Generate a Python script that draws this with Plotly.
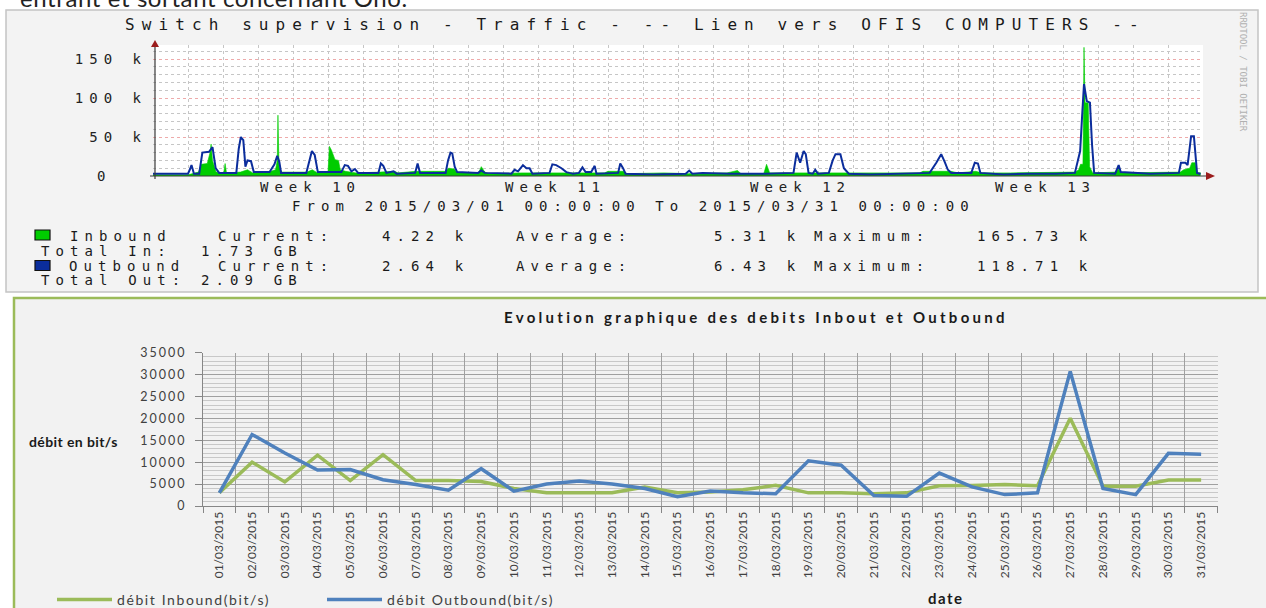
import plotly.graph_objects as go
import pandas as pd

W, H = 1266, 608


def px(x):
    return x / W


def py(y):
    return 1 - y / H


# ---------------- Top panel (RRDtool traffic graph) ----------------
# time = days since 2015-03-01 00:00, values in kbit/s
out_days = [0.0, 1.0, 1.05, 1.1, 1.17, 1.32, 1.41, 1.6, 1.7, 1.79, 1.89, 2.38, 2.45, 2.51, 2.58, 2.64,
            2.7, 2.8, 2.88, 3.33, 3.47, 3.55, 3.61, 3.66, 4.38, 4.47, 4.54, 4.62, 4.71, 5.38, 5.48,
            5.57, 5.67, 5.77, 5.86, 6.44, 6.51, 6.58, 6.67, 6.87, 6.96, 7.49, 7.56, 7.63, 8.36, 8.43,
            8.5, 8.55, 8.62, 8.69, 9.29, 9.38, 9.48, 10.24, 10.33, 10.43, 10.57, 10.67, 10.76, 10.84,
            11.33, 11.41, 11.52, 11.67, 11.81, 11.9, 12.0, 12.17, 12.27, 12.36, 12.52, 12.62, 12.67,
            13.29, 13.35, 13.43, 13.5, 14.3, 14.8, 15.22, 15.32, 15.41, 15.7, 16.5, 17.5, 18.3, 18.39,
            18.49, 18.59, 18.65, 18.73, 18.85, 18.92, 19.0, 19.31, 19.42, 19.5, 19.64, 19.74, 19.88,
            20.5, 21.3, 22.19, 22.38, 22.52, 22.62, 22.71, 22.81, 23.38, 23.48, 23.57, 23.64, 24.3,
            25.0, 25.8, 26.34, 26.41, 26.49, 26.55, 26.6, 26.68, 26.77, 26.83, 26.89, 27.49, 27.59,
            27.65, 28.5, 29.31, 29.37, 29.5, 29.56, 29.66, 29.74, 29.83, 29.93]
out_kbps = [3, 3, 8, 14, 3, 3, 30, 31, 37, 10, 4, 4, 35, 50, 46, 12,
            20, 19, 5, 5, 15, 26, 18, 4, 4, 20, 32, 27, 5, 5, 14,
            13, 6, 9, 4, 4, 16, 13, 4, 6, 3, 4, 16, 4, 4, 20,
            30, 29, 12, 5, 4, 7, 4, 3, 8, 6, 14, 10, 10, 3,
            4, 15, 14, 10, 5, 4, 3, 4, 11, 5, 5, 13, 3,
            4, 16, 10, 3, 2, 3, 3, 7, 3, 4, 3, 3, 4, 30,
            17, 32, 28, 4, 3, 8, 3, 4, 20, 28, 28, 10, 3,
            2, 3, 4, 17, 28, 18, 8, 4, 4, 17, 16, 4, 2,
            3, 3, 4, 17, 32, 80, 118, 96, 94, 40, 4, 3, 14,
            5, 3, 4, 17, 17, 14, 51, 51, 4, 2.6]

in_days = [0.0, 1.0, 1.3, 1.38, 1.55, 1.63, 1.66, 1.7, 1.8, 2.02, 2.06, 2.1, 2.5, 2.7, 2.85, 3.3,
           3.5, 3.55, 3.57, 3.6, 3.68, 4.4, 4.55, 4.7, 5.0, 5.04, 5.1, 5.2, 5.3, 5.35, 5.5, 5.8,
           6.5, 6.9, 7.0, 7.5, 8.0, 8.35, 8.45, 8.6, 8.7, 9.3, 9.38, 9.48, 9.6, 10.5, 12.9, 13.0,
           13.45, 13.55, 14.6, 15.3, 16.4, 16.7, 16.8, 17.45, 17.53, 17.62, 18.4, 19.0, 21.9, 22.0,
           22.8, 23.0, 23.5, 23.7, 24.5, 26.35, 26.45, 26.5, 26.57, 26.6, 26.63, 26.72, 26.76,
           26.85, 27.5, 27.58, 27.66, 29.35, 29.45, 29.62, 29.68, 29.78, 29.83, 29.93]
in_kbps = [1.5, 1.5, 5, 15, 16, 30, 41, 20, 5, 4, 16, 4, 5, 8, 4, 5,
           8, 20, 78, 12, 5, 5, 8, 4, 5, 38, 33, 21, 20, 8, 6, 4,
           5, 6, 4, 6, 6, 6, 10, 9, 4, 4, 12, 5, 3, 4, 4, 6,
           6, 3, 4, 3, 4, 7, 3, 3, 15, 4, 4, 4, 4, 6,
           6, 4, 6, 4, 4, 5, 8, 15, 15, 165, 94, 94, 12,
           4, 5, 9, 4, 5, 8, 10, 17, 17, 4, 4.2]

week_ticks = ["2015-03-05 12:00", "2015-03-12 12:00", "2015-03-19 12:00", "2015-03-26 12:00"]
week_labels = ["Week 10", "Week 11", "Week 12", "Week 13"]
top_y_ticks = [50, 100, 150]
top_y_labels = ["50 k", "100 k", "150 k"]
top_y_zero = 0
top_y_zero_label = "0"

# ---------------- Bottom panel (Excel chart) ----------------
dates = ["01/03/2015", "02/03/2015", "03/03/2015", "04/03/2015", "05/03/2015", "06/03/2015",
         "07/03/2015", "08/03/2015", "09/03/2015", "10/03/2015", "11/03/2015", "12/03/2015",
         "13/03/2015", "14/03/2015", "15/03/2015", "16/03/2015", "17/03/2015", "18/03/2015",
         "19/03/2015", "20/03/2015", "21/03/2015", "22/03/2015", "23/03/2015", "24/03/2015",
         "25/03/2015", "26/03/2015", "27/03/2015", "28/03/2015", "29/03/2015", "30/03/2015",
         "31/03/2015"]
inbound_daily = [3000, 10000, 5500, 11600, 5800, 11700, 5800, 5800, 5600, 4000, 3000, 3000, 3000,
                 4300, 3000, 3200, 3700, 4700, 3000, 3000, 2800, 3000, 4600, 4700, 4900, 4600,
                 20000, 4500, 4500, 5900, 5900]
outbound_daily = [3000, 16300, 12100, 8200, 8300, 6000, 4900, 3600, 8500, 3400, 5000, 5700, 5000,
                  4000, 2100, 3400, 3000, 2800, 10300, 9300, 2400, 2200, 7500, 4350, 2600, 3000,
                  30700, 4000, 2600, 12000, 11800]
bottom_y_ticks = [0, 5000, 10000, 15000, 20000, 25000, 30000, 35000]

start = pd.Timestamp("2015-03-01")


def to_time(days):
    return [start + pd.Timedelta(days=d) for d in days]


def ls(t, s):
    return f"<span style='letter-spacing:{s}px'>{t}</span>"


MONO = "DejaVu Sans Mono"
SANS = "Lato"

fig = go.Figure()

fig.add_trace(go.Scatter(x=to_time(in_days), y=in_kbps, mode="lines", fill="tozeroy",
                         fillcolor="#00cc00", line=dict(color="#00cc00", width=0.6),
                         xaxis="x", yaxis="y", showlegend=False, name="Inbound",
                         hoverinfo="skip"))
fig.add_trace(go.Scatter(x=to_time(out_days), y=out_kbps, mode="lines",
                         line=dict(color="#0b2d9c", width=2),
                         xaxis="x", yaxis="y", showlegend=False, name="Outbound",
                         hoverinfo="skip"))

fig.add_trace(go.Scatter(x=dates, y=inbound_daily, mode="lines",
                         line=dict(color="#9bbb59", width=3.5),
                         xaxis="x2", yaxis="y2", name=ls("débit Inbound(bit/s)", 1.6)))
fig.add_trace(go.Scatter(x=dates, y=outbound_daily, mode="lines",
                         line=dict(color="#4f81bd", width=3.5),
                         xaxis="x2", yaxis="y2", name=ls("débit Outbound(bit/s)", 1.6)))

grey_dot = "#c6c6c6"
red_dot = "#eeaaaa"

fig.update_layout(
    width=W, height=H, autosize=False,
    margin=dict(l=0, r=0, t=0, b=0, pad=0, autoexpand=False),
    paper_bgcolor="white", plot_bgcolor="rgba(0,0,0,0)",
    hovermode=False,
    xaxis=dict(domain=[px(153), px(1203)], anchor="y", type="date",
               range=["2015-03-01", "2015-03-31"],
               tickmode="array", tickvals=week_ticks,
               ticktext=[ls(t, 6.0) for t in week_labels],
               ticks="", showgrid=False, showline=False, zeroline=False,
               tickfont=dict(family=MONO, size=14, color="#222222"),
               ticklabelstandoff=1,
               minor=dict(tick0="2015-03-01", dtick=86400000, showgrid=True,
                          gridcolor=grey_dot, griddash="dot", gridwidth=1)),
    xaxis3=dict(overlaying="x", anchor="y", type="date",
                range=["2015-03-01", "2015-03-31"],
                tick0="2015-03-02", dtick=7 * 86400000,
                showgrid=True, gridcolor=red_dot, griddash="dot", gridwidth=1,
                showticklabels=False, ticks="", zeroline=False, showline=False),
    yaxis=dict(domain=[py(176), py(45)], anchor="x", range=[0, 168],
               tickmode="array", tickvals=top_y_ticks,
               ticktext=[ls(t, 6.0) for t in top_y_labels],
               ticks="", showgrid=True, gridcolor=red_dot, griddash="dot",
               zeroline=False, showline=False,
               tickfont=dict(family=MONO, size=14, color="#222222"),
               ticklabelstandoff=5,
               minor=dict(tick0=0, dtick=10, showgrid=True, gridcolor=grey_dot,
                          griddash="dot", gridwidth=1)),
    xaxis2=dict(domain=[px(203), px(1217.5)], anchor="y2", type="category",
                range=[-0.5, 30.5], tickson="boundaries",
                showgrid=True, gridcolor="#a0a0a0", gridwidth=1,
                ticks="outside", ticklen=6, tickcolor="#868686",
                showline=True, linecolor="#868686", linewidth=1,
                tickangle=-90, tickfont=dict(family=SANS, size=12, color="#404040"),
                zeroline=False),
    yaxis2=dict(domain=[py(506), py(352.5)], anchor="x2", range=[0, 35000],
                tickmode="array", tickvals=bottom_y_ticks,
                ticktext=[ls(str(v), 2.0) for v in bottom_y_ticks],
                showgrid=True, gridcolor="#a0a0a0", gridwidth=1,
                ticks="outside", ticklen=7, tickcolor="#868686",
                showline=True, linecolor="#868686", linewidth=1,
                zeroline=False,
                tickfont=dict(family=SANS, size=12.5, color="#404040"),
                ticklabelstandoff=6,
                minor=dict(tick0=0, dtick=1000, showgrid=True, gridcolor="#c8c8c8", gridwidth=1)),
    legend=dict(orientation="h", x=px(52), y=py(600), xanchor="left", yanchor="middle",
                itemwidth=55, entrywidth=200, entrywidthmode="pixels",
                font=dict(family=SANS, size=14, color="#404040"),
                bgcolor="rgba(0,0,0,0)", borderwidth=0),
)

shapes = [
    # top panel background
    dict(type="rect", xref="paper", yref="paper", x0=px(6), x1=px(1258), y0=py(292), y1=py(10),
         fillcolor="#f3f3f3", line=dict(color="#c4c4c4", width=1.5), layer="below"),
    # top plot area
    dict(type="rect", xref="paper", yref="paper", x0=px(155), x1=px(1203), y0=py(176), y1=py(45),
         fillcolor="#ffffff", line=dict(width=0), layer="below"),
    # bottom panel background
    dict(type="rect", xref="paper", yref="paper", x0=px(14), x1=px(1275), y0=py(615), y1=py(298),
         fillcolor="#f2f2f2", line=dict(color="#9bbb59", width=2.5), layer="below"),
    # rrd axes
    dict(type="line", xref="paper", yref="paper", x0=px(155), x1=px(155), y0=py(179), y1=py(45),
         line=dict(color="#3a3a3a", width=1.2), layer="above"),
    dict(type="line", xref="paper", yref="paper", x0=px(150), x1=px(1208), y0=py(176), y1=py(176),
         line=dict(color="#3a3a3a", width=1.2), layer="above"),
    dict(type="path", xref="paper", yref="paper",
         path=f"M {px(151)},{py(47)} L {px(159)},{py(47)} L {px(155)},{py(40)} Z",
         fillcolor="#9b1c1c", line=dict(width=0), layer="above"),
    dict(type="path", xref="paper", yref="paper",
         path=f"M {px(1206)},{py(172)} L {px(1206)},{py(180)} L {px(1215)},{py(176)} Z",
         fillcolor="#9b1c1c", line=dict(width=0), layer="above"),
    # legend squares (rrd)
    dict(type="rect", xref="paper", yref="paper", x0=px(35), x1=px(50), y0=py(240), y1=py(230),
         fillcolor="#00cc00", line=dict(color="#111111", width=1.2), layer="above"),
    dict(type="rect", xref="paper", yref="paper", x0=px(35), x1=px(50), y0=py(270.5), y1=py(260.5),
         fillcolor="#0b2d9c", line=dict(color="#111111", width=1.2), layer="above"),
]
fig.update_layout(shapes=shapes)

ann = []


def add_text(x, y, text, family=MONO, size=14, color="#1a1a1a", xanchor="left", angle=0,
             bold=False, spacing=None):
    t = ls(text, spacing) if spacing is not None else text
    if bold:
        t = "<b>" + t + "</b>"
    ann.append(dict(x=px(x), y=py(y), xref="paper", yref="paper", text=t, showarrow=False,
                    xanchor=xanchor, yanchor="middle", textangle=angle,
                    font=dict(family=family, size=size, color=color)))


# "0" tick label of the rrd value axis (rrdtool pads it like "0  ")
ann.append(dict(x=px(100.5), y=top_y_zero, xref="paper", yref="y", text=top_y_zero_label,
                showarrow=False, xanchor="center", yanchor="middle",
                font=dict(family=MONO, size=14, color="#222222")))

# cut-off document line at the very top
add_text(18, -2, "entrant et sortant concernant Ono.", family=SANS, size=24, color="#222222",
         spacing=0.6)

# rrd title
add_text(123, 24, "Switch supervision - Traffic - -- Lien vers OFIS COMPUTERS --", size=16,
         spacing=7.1)
add_text(290, 206, "From 2015/03/01 00:00:00 To 2015/03/31 00:00:00", spacing=6.1)

rows = [
    (236, [(68, "Inbound"), (216, "Current:"), (380, "4.22 k"), (514, "Average:"),
           (712, "5.31 k"), (812, "Maximum:"), (975, "165.73 k")]),
    (251, [(39, "Total In:"), (199, "1.73 GB")]),
    (266, [(67, "Outbound"), (216, "Current:"), (380, "2.64 k"), (514, "Average:"),
           (712, "6.43 k"), (812, "Maximum:"), (975, "118.71 k")]),
    (280, [(39, "Total Out:"), (199, "2.09 GB")]),
]
for yy, segs in rows:
    for xx, t in segs:
        add_text(xx, yy, t, spacing=6.1)

add_text(1243, 72, "RRDTOOL / TOBI OETIKER", size=9, color="#b0b0b0", xanchor="center", angle=90)

# bottom chart texts
add_text(756, 317, "Evolution graphique des debits Inbout et Outbound", family=SANS, size=15,
         color="#1a1a1a", xanchor="center", bold=True, spacing=3.3)
add_text(27, 441, "débit en bit/s", family=SANS, size=14, color="#1a1a1a", bold=True,
         spacing=0.4)
add_text(946, 598, "date", family=SANS, size=15, color="#1a1a1a", xanchor="center", bold=True,
         spacing=1.5)

fig.update_layout(annotations=ann)

fig.write_html("out.html",
               config={"displayModeBar": False},
               post_script="document.body.style.margin='0px';"
                           "document.body.style.overflow='hidden';")
